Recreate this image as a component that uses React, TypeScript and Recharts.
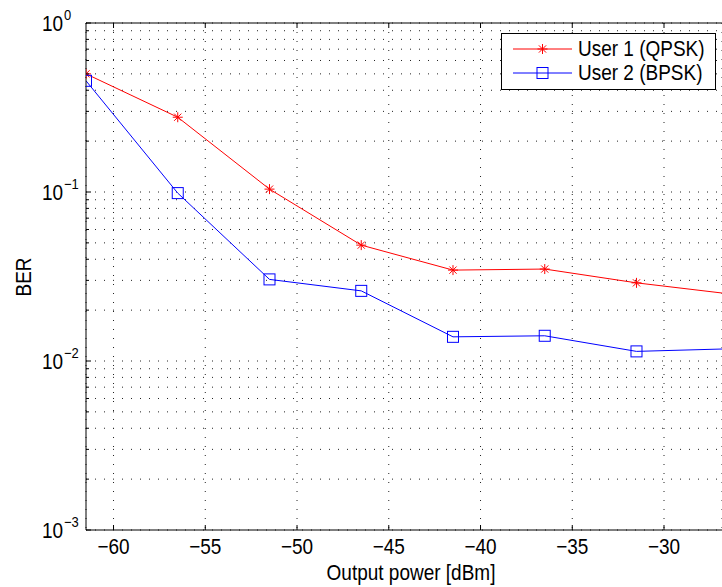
import React from 'react';
import { LineChart, Line, XAxis, YAxis, CartesianGrid, ReferenceLine, Legend } from 'recharts';

// output power sweep and measured BER per user
const POWER_DBM = [-61.5, -56.5, -51.5, -46.5, -41.5, -36.5, -31.5, -26.5];
const USER1_BER = [0.5, 0.277, 0.104, 0.0485, 0.0345, 0.035, 0.029, 0.025];
const USER2_BER = [0.455, 0.0985, 0.0304, 0.026, 0.0139, 0.0141, 0.0114, 0.0118];

const X_TICKS = [-60, -55, -50, -45, -40, -35, -30];
const Y_DECADES = [0.001, 0.01, 0.1, 1];
const Y_EXPONENTS = ['−3', '−2', '−1', '0'];
const MINOR_STEPS = [1, 2, 3, 4, 5, 6, 7, 8, 9];

const FONT = '"Liberation Sans", Arial, Helvetica, sans-serif';
const RED = '#ff0000';
const BLUE = '#0000ff';

const W = 722;
const H = 587;
const LEFT = 86;
const TOP = 23;
const BOTTOM = 530;
const STRETCH = 1.12; // matlab text renders a bit taller than arial

const yTicks: number[] = [];
Y_DECADES.slice(0, -1).forEach(d => MINOR_STEPS.forEach(k => yTicks.push(+(k * d).toPrecision(3))));
yTicks.push(1);

const data = POWER_DBM.map((p, i) => ({ p, u1: USER1_BER[i], u2: USER2_BER[i] }));

// text placed at (x, y) baseline, stretched vertically a touch
const T = ({ x, y, size = 19, anchor = 'start', rotate = 0, children }: any) => (
  <text
    x={0}
    y={0}
    transform={`translate(${x} ${y}) rotate(${rotate}) scale(1 ${STRETCH})`}
    textAnchor={anchor}
    fontSize={size}
    fontFamily={FONT}
    fill="#000"
  >
    {children}
  </text>
);

const Star = ({ cx, cy, color, r = 5 }: any) => {
  const d = r * 0.72;
  return (
    <g stroke={color} strokeWidth={1}>
      <line x1={cx - r} y1={cy} x2={cx + r} y2={cy} />
      <line x1={cx} y1={cy - r} x2={cx} y2={cy + r} />
      <line x1={cx - d} y1={cy - d} x2={cx + d} y2={cy + d} />
      <line x1={cx - d} y1={cy + d} x2={cx + d} y2={cy - d} />
    </g>
  );
};

const Square = ({ cx, cy, color, r = 5.5 }: any) => (
  <rect x={cx - r} y={cy - r} width={2 * r} height={2 * r} fill="none" stroke={color} strokeWidth={1} />
);

const XTick = ({ x, payload }: any) => (
  <g>
    <line x1={x} y1={BOTTOM} x2={x} y2={BOTTOM - 5} stroke="#000" />
    <line x1={x} y1={TOP} x2={x} y2={TOP + 5} stroke="#000" />
    <T x={x} y={554} anchor="middle">{String(payload.value).replace('-', '−')}</T>
  </g>
);

const YTick = ({ y, payload }: any) => {
  const idx = Y_DECADES.findIndex(d => Math.abs(d - payload.value) < 1e-9);
  if (idx < 0) {
    return <line x1={LEFT} y1={y} x2={LEFT + 3} y2={y} stroke="#000" />;
  }
  return (
    <g>
      <line x1={LEFT} y1={y} x2={LEFT + 5} y2={y} stroke="#000" />
      <T x={63} y={y + 8} anchor="end">10</T>
      <T x={64} y={y - 3} size={13}>{Y_EXPONENTS[idx]}</T>
    </g>
  );
};

const LegendBox = ({ payload }: any) => (
  <svg width={215} height={57} style={{ display: 'block' }}>
    <rect x={0.5} y={0.5} width={214} height={56} fill="#fff" stroke="#000" strokeWidth={1} />
    {(payload || []).map((entry: any, i: number) => {
      const cy = 16 + i * 24;
      return (
        <g key={entry.value}>
          <line x1={12} y1={cy} x2={71} y2={cy} stroke={entry.color} strokeWidth={1} />
          {i === 0 ? <Star cx={41.5} cy={cy} color={entry.color} /> : <Square cx={41.5} cy={cy} color={entry.color} />}
          <T x={77} y={cy + 6.5}>{entry.value}</T>
        </g>
      );
    })}
  </svg>
);

export default function App() {
  return (
    <div style={{ position: 'absolute', left: 0, top: 0, width: W, height: H, background: '#fff' }}>
      <LineChart width={W} height={H} data={data} margin={{ top: TOP, right: 0, left: 0, bottom: 0 }}>
        <CartesianGrid stroke="#222" strokeDasharray="1 8" strokeWidth={1} />
        <XAxis
          dataKey="p"
          type="number"
          domain={[-61.5, -26.84]}
          allowDataOverflow
          ticks={X_TICKS}
          interval={0}
          height={H - BOTTOM}
          tickLine={false}
          axisLine={{ stroke: '#000' }}
          tick={<XTick />}
          label={{ content: () => <T x={(LEFT + W) / 2 + 7} y={580} anchor="middle">Output power [dBm]</T> }}
        />
        <YAxis
          scale="log"
          type="number"
          domain={[0.001, 1]}
          allowDataOverflow
          ticks={yTicks}
          interval={0}
          width={LEFT}
          tickLine={false}
          axisLine={{ stroke: '#000' }}
          tick={<YTick />}
          label={{ content: () => <T x={31} y={277} anchor="middle" rotate={-90}>BER</T> }}
        />
        <ReferenceLine y={1} stroke="#000" strokeWidth={1} />
        <Line
          dataKey="u1"
          name="User 1 (QPSK)"
          stroke={RED}
          strokeWidth={1}
          isAnimationActive={false}
          dot={(props: any) => <Star key={`s${props.index}`} cx={props.cx} cy={props.cy} color={RED} />}
        />
        <Line
          dataKey="u2"
          name="User 2 (BPSK)"
          stroke={BLUE}
          strokeWidth={1}
          isAnimationActive={false}
          dot={(props: any) => <Square key={`q${props.index}`} cx={props.cx} cy={props.cy} color={BLUE} />}
        />
        <Legend
          layout="vertical"
          align="center"
          verticalAlign="middle"
          content={<LegendBox />}
          wrapperStyle={{ left: 501, top: 33, width: 215, height: 57 }}
        />
      </LineChart>
    </div>
  );
}
